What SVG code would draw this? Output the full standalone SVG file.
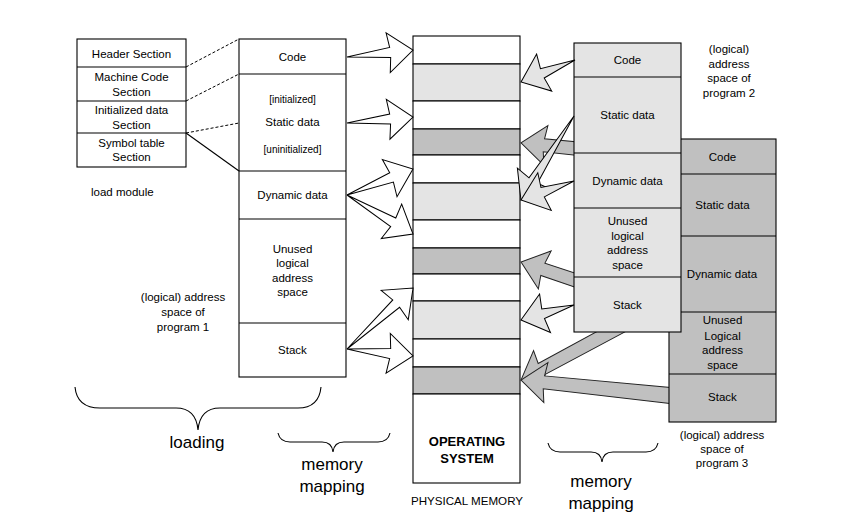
<svg xmlns="http://www.w3.org/2000/svg" width="850" height="528" viewBox="0 0 850 528">
<style>
text{font-family:"Liberation Sans",Arial,Helvetica,sans-serif;font-size:11.5px;fill:#000;text-anchor:middle}
.box{stroke:#000;stroke-width:1.1}
.sep{stroke:#000;stroke-width:1.1}
.w{fill:#fff}
.lg{fill:#e4e4e4}
.dg{fill:#c0c0c0}
.aw{fill:#fff;stroke:#000;stroke-width:1}
.al{fill:#e4e4e4;stroke:#000;stroke-width:1}
.ad{fill:#c0c0c0;stroke:#222;stroke-width:1}
.dash{stroke:#000;stroke-width:1;stroke-dasharray:3 2;fill:none}
.solid{stroke:#000;stroke-width:1.1;fill:none}
.brace{fill:none;stroke:#000;stroke-width:1.1}
.small{font-size:10px}
.big{font-size:17px}
.bold{font-weight:bold;font-size:13px}
.left{text-anchor:start}
</style>
<rect width="850" height="528" fill="#fff"/>

<g id="load-module">
<rect class="box w" x="77" y="39" width="109" height="128"/>
<line class="sep" x1="77" y1="67" x2="186" y2="67"/>
<line class="sep" x1="77" y1="101" x2="186" y2="101"/>
<line class="sep" x1="77" y1="133" x2="186" y2="133"/>
<text x="131.5" y="57.5">Header Section</text>
<text x="131.5" y="81">Machine Code</text>
<text x="131.5" y="96">Section</text>
<text x="131.5" y="114">Initialized data</text>
<text x="131.5" y="128.5">Section</text>
<text x="131.5" y="147">Symbol table</text>
<text x="131.5" y="161">Section</text>
<text class="left" x="91" y="196">load module</text>
</g>

<g id="program1">
<rect class="box w" x="239" y="39" width="107" height="338"/>
<line class="sep" x1="239" y1="74" x2="346" y2="74"/>
<line class="sep" x1="239" y1="171" x2="346" y2="171"/>
<line class="sep" x1="239" y1="219" x2="346" y2="219"/>
<line class="sep" x1="239" y1="323" x2="346" y2="323"/>
<text x="292.5" y="61">Code</text>
<text class="small" x="292.5" y="102.5">[initialized]</text>
<text x="292.5" y="126">Static data</text>
<text class="small" x="292.5" y="152.5">[uninitialized]</text>
<text x="292.5" y="198.5">Dynamic data</text>
<text x="292.5" y="252.5">Unused</text>
<text x="292.5" y="267">logical</text>
<text x="292.5" y="281.5">address</text>
<text x="292.5" y="296">space</text>
<text x="292.5" y="353.5">Stack</text>
<text x="183" y="301">(logical) address</text>
<text x="183" y="316">space of</text>
<text x="183" y="330.5">program 1</text>
</g>

<g id="physical-memory">
<rect class="box w" x="413" y="36" width="107" height="28"/>
<rect class="box lg" x="413" y="64" width="107" height="37"/>
<rect class="box w" x="413" y="101" width="107" height="28"/>
<rect class="box dg" x="413" y="129" width="107" height="26"/>
<rect class="box w" x="413" y="155" width="107" height="28"/>
<rect class="box lg" x="413" y="183" width="107" height="37"/>
<rect class="box w" x="413" y="220" width="107" height="28"/>
<rect class="box dg" x="413" y="248" width="107" height="26"/>
<rect class="box w" x="413" y="274" width="107" height="27"/>
<rect class="box lg" x="413" y="301" width="107" height="38"/>
<rect class="box w" x="413" y="339" width="107" height="28"/>
<rect class="box dg" x="413" y="367" width="107" height="27"/>
<rect class="box w" x="413" y="394" width="107" height="89"/>
<text class="bold" x="467" y="445.5">OPERATING</text>
<text class="bold" x="467" y="463">SYSTEM</text>
<text style="font-size:11.6px" x="467" y="505">PHYSICAL MEMORY</text>
</g>

<g id="connectors-back">
<polygon class="ad" transform="translate(640 155) rotate(-174.2)" points="0,-7 96.6,-6.5 94.6,-20 119.6,0 94.6,20 96.6,6.5 0,7"/>
<polygon class="ad" transform="translate(640 302) rotate(-161.4)" points="0,-7 102.5,-6.5 100.5,-20 125.5,0 100.5,20 102.5,6.5 0,7"/>
<polygon class="ad" transform="translate(653 309) rotate(151.7)" points="0,-7 126.9,-6.5 124.9,-20 149.9,0 124.9,20 126.9,6.5 0,7"/>
<polygon class="ad" transform="translate(675 396) rotate(-174.07)" points="0,-8 131.8,-6.5 129.8,-20 154.8,0 129.8,20 131.8,6.5 0,8"/>
</g>

<g id="program3">
<rect class="box dg" x="669" y="139" width="107" height="283"/>
<line class="sep" x1="669" y1="174" x2="776" y2="174"/>
<line class="sep" x1="669" y1="236" x2="776" y2="236"/>
<line class="sep" x1="669" y1="312" x2="776" y2="312"/>
<line class="sep" x1="669" y1="374" x2="776" y2="374"/>
<text x="722.5" y="161">Code</text>
<text x="722.5" y="209">Static data</text>
<text x="722" y="278">Dynamic data</text>
<text x="722.5" y="324">Unused</text>
<text x="722.5" y="340">Logical</text>
<text x="722.5" y="354">address</text>
<text x="722.5" y="369">space</text>
<text x="722.5" y="401">Stack</text>
<text x="722" y="439">(logical) address</text>
<text x="722" y="452.5">space of</text>
<text x="722" y="467">program 3</text>
</g>

<g id="program2">
<rect class="box lg" x="574" y="43" width="107" height="289"/>
<line class="sep" x1="574" y1="77" x2="681" y2="77"/>
<line class="sep" x1="574" y1="153" x2="681" y2="153"/>
<line class="sep" x1="574" y1="208" x2="681" y2="208"/>
<line class="sep" x1="574" y1="277" x2="681" y2="277"/>
<text x="627.5" y="64">Code</text>
<text x="627.5" y="119">Static data</text>
<text x="627.5" y="185">Dynamic data</text>
<text x="627.5" y="225">Unused</text>
<text x="627.5" y="239.5">logical</text>
<text x="627.5" y="254">address</text>
<text x="627.5" y="268.5">space</text>
<text x="627.5" y="309">Stack</text>
<text x="729" y="52.5">(logical)</text>
<text x="729" y="67.5">address</text>
<text x="729" y="81.5">space of</text>
<text x="729" y="97">program 2</text>
</g>

<g id="connectors">
<path class="dash" d="M186,67 L239,39"/>
<path class="dash" d="M186,101 L239,74"/>
<path class="dash" d="M186,133 L239,123"/>
<path class="solid" d="M186,133 L239,171"/>
<polygon class="aw" transform="translate(347 57) rotate(-6.05)" points="0,0 43.4,-5 41.4,-20 66.4,0 41.4,20 43.4,5"/>
<polygon class="aw" transform="translate(347 123) rotate(-5.2)" points="0,0 43.3,-5 41.3,-20 66.3,0 41.3,20 43.3,5"/>
<polygon class="aw" transform="translate(347 195) rotate(-21.5)" points="0,0 47.9,-5 45.9,-20 70.9,0 45.9,20 47.9,5"/>
<polygon class="aw" transform="translate(347 195) rotate(30.6)" points="0,0 53.7,-5 51.7,-20 76.7,0 51.7,20 53.7,5"/>
<polygon class="aw" transform="translate(347 349) rotate(-42.7)" points="0,0 66.9,-5 64.9,-20 89.9,0 64.9,20 66.9,5"/>
<polygon class="aw" transform="translate(347 349) rotate(6.05)" points="0,0 43.4,-5 41.4,-20 66.4,0 41.4,20 43.4,5"/>
<polygon class="al" transform="translate(575 60) rotate(157.8)" points="0,0 35.3,-5 33.3,-20 58.3,0 33.3,20 35.3,5"/>
<polygon class="al" transform="translate(574 116) rotate(122.3)" points="0,0 76.3,-5 74.3,-20 99.3,0 74.3,20 76.3,5"/>
<polygon class="al" transform="translate(574 181) rotate(160.3)" points="0,0 33.3,-5 31.3,-20 56.3,0 31.3,20 33.3,5"/>
<polygon class="al" transform="translate(574 305) rotate(164.2)" points="0,0 32.1,-5 30.1,-20 55.1,0 30.1,20 32.1,5"/>
</g>

<g id="braces">
<path class="brace" d="M75,387 Q77,408 100,408 L176,408 Q196,408 198,430 Q200,408 220,408 L298,408 Q319,408 321,387"/>
<path class="brace" d="M278,433 Q280,442 290,442 L322,442 Q332,442 333,452 Q334,442 344,442 L378,442 Q388,442 390,433"/>
<path class="brace" d="M548,443 Q550,452 560,452 L591,452 Q601,452 602,462 Q603,452 613,452 L646,452 Q656,452 658,443"/>
<text class="big" x="197" y="448">loading</text>
<text class="big" x="332" y="470">memory</text>
<text class="big" x="332" y="492">mapping</text>
<text class="big" x="601" y="487">memory</text>
<text class="big" x="601" y="509">mapping</text>
</g>
</svg>
